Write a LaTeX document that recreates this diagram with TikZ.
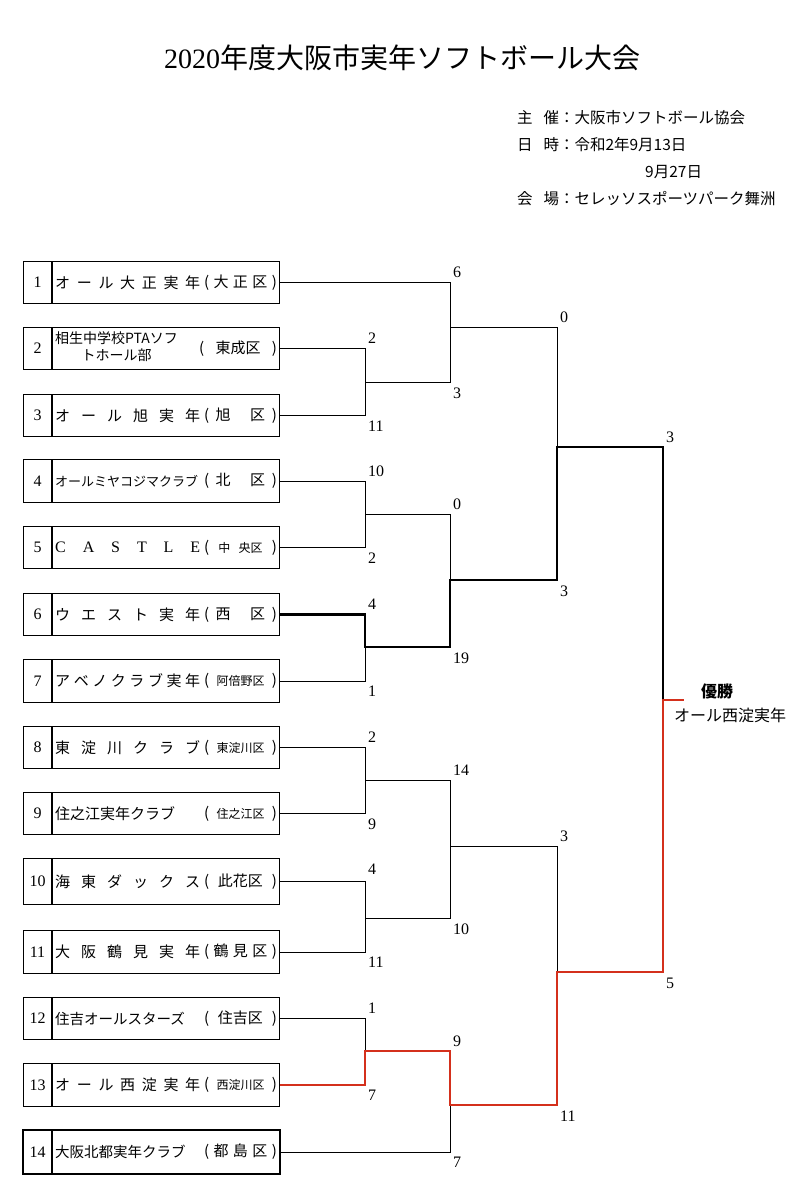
\documentclass[tikz,border=0pt]{standalone}
\usepackage{fontspec}
\newfontfamily\jp{Noto Sans CJK JP}
\newfontfamily\numf{Liberation Serif}
\definecolor{winred}{RGB}{212,48,28}
\tikzset{
  box/.style={draw, line width=1.2pt, inner sep=0pt, minimum width=256pt, anchor=north west},
  boxline/.style={line width=1.2pt},
  numstyle/.style={font=\numf\fontsize{16}{16}\selectfont, inner sep=0pt},
  tname/.style={inner sep=0pt, anchor=west},
  tdist/.style={inner sep=0pt, anchor=east},
  wire/.style={line width=1pt, line join=miter},
  boldwire/.style={line width=2.6pt, line join=miter},
  redwire/.style={line width=2.6pt, line join=miter, draw=winred},
  sc/.style={font=\numf\fontsize{16}{16}\selectfont, inner sep=0pt},
  up/.style={sc, anchor=south west},
  dn/.style={sc, anchor=north west},
  hdr/.style={anchor=west, inner sep=0pt, font=\jp\fontsize{15.5}{15.5}\selectfont},
}
\newcommand\team[6]{%
  \node[box, minimum height=#3pt] (#1) at (23,#2) {};
  \draw[boxline] ([xshift=29pt]#1.north west) -- ([xshift=29pt]#1.south west);
  \node[numstyle] (#1n) at ([xshift=14.5pt]#1.west) {#4};
  \node[tname] (#1a) at ([xshift=32pt]#1.west) {#5};
  \node[tdist] (#1d) at ([xshift=-3pt]#1.east) {#6};
}
\newcommand\sm[1]{{\fontsize{12}{12}\selectfont #1}}
\begin{document}
\begin{tikzpicture}[x=1pt,y=-1pt, font=\jp\fontsize{15}{15}\selectfont]
\useasboundingbox (0,0) rectangle (806,1200);
\fill[white] (0,0) rectangle (806,1200);

% title and header
\node[inner sep=0pt] (title) at (402,58) {\fontsize{28}{28}\selectfont{\numf 2020}年度大阪市実年ソフトボール大会};
\node[hdr] (h1) at (517,118) {主\hspace{0.7em}催：大阪市ソフトボール協会};
\node[hdr] (h2) at (517,145) {日\hspace{0.7em}時：令和2年9月13日};
\node[hdr] (h3) at (645,172) {9月27日};
\node[hdr] (h4) at (517,199) {会\hspace{0.7em}場：セレッソスポーツパーク舞洲};

% teams
\team{t1}{261}{42}{1}{\makebox[145pt]{オ\hfill ー\hfill ル\hfill 大\hfill 正\hfill 実\hfill 年}}{\makebox[73pt]{(\hfill 大\hfill 正\hfill 区\hfill )}}
\team{t2}{327}{42}{2}{{\fontsize{14}{17}\selectfont\begin{tabular}{@{}c@{}}相生中学校PTAソフ\\トホール部\end{tabular}}}{\makebox[78pt]{(\hfill 東成区\hfill )}}
\team{t3}{394}{42}{3}{\makebox[145pt]{オ\hfill ー\hfill ル\hfill 旭\hfill 実\hfill 年}}{\makebox[73pt]{(\hfill 旭\hspace{1.3em}区\hfill )}}
\team{t4}{459}{43}{4}{{\fontsize{13}{13}\selectfont オールミヤコジマクラブ}}{\makebox[73pt]{(\hfill 北\hspace{1.3em}区\hfill )}}
\team{t5}{526}{42}{5}{\makebox[145pt]{\numf\fontsize{16}{16}\selectfont C\hfill A\hfill S\hfill T\hfill L\hfill E}}{\makebox[73pt]{(\hfill\sm{中\hspace{0.7em}央区}\hfill )}}
\team{t6}{593}{42}{6}{\makebox[145pt]{ウ\hfill エ\hfill ス\hfill ト\hfill 実\hfill 年}}{\makebox[73pt]{(\hfill 西\hspace{1.3em}区\hfill )}}
\team{t7}{659}{43}{7}{\makebox[145pt]{ア\hfill ベ\hfill ノ\hfill ク\hfill ラ\hfill ブ\hfill 実\hfill 年}}{\makebox[73pt]{(\hfill\sm{阿倍野区}\hfill )}}
\team{t8}{726}{42}{8}{\makebox[145pt]{東\hfill 淀\hfill 川\hfill ク\hfill ラ\hfill ブ}}{\makebox[73pt]{(\hfill\sm{東淀川区}\hfill )}}
\team{t9}{792}{42}{9}{住之江実年クラブ}{\makebox[73pt]{(\hfill\sm{住之江区}\hfill )}}
\team{t10}{858}{46}{10}{\makebox[145pt]{海\hfill 東\hfill ダ\hfill ッ\hfill ク\hfill ス}}{\makebox[73pt]{(\hfill 此花区\hfill )}}
\team{t11}{930}{43}{11}{\makebox[145pt]{大\hfill 阪\hfill 鶴\hfill 見\hfill 実\hfill 年}}{\makebox[73pt]{(\hfill 鶴\hfill 見\hfill 区\hfill )}}
\team{t12}{997}{42}{12}{{\fontsize{14.5}{14.5}\selectfont 住吉オールスターズ}}{\makebox[73pt]{(\hfill 住吉区\hfill )}}
\team{t13}{1063}{43}{13}{\makebox[145pt]{オ\hfill ー\hfill ル\hfill 西\hfill 淀\hfill 実\hfill 年}}{\makebox[73pt]{(\hfill\sm{西淀川区}\hfill )}}
\team{t14}{1130}{43}{14}{{\fontsize{14.5}{14.5}\selectfont 大阪北都実年クラブ}}{\makebox[73pt]{(\hfill 都\hfill 島\hfill 区\hfill )}}
\draw[line width=2.4pt] (t14.north west) rectangle (t14.south east);
\draw[line width=2pt] ([xshift=29pt]t14.north west) -- ([xshift=29pt]t14.south west);

% junctions
\coordinate (j23) at (365,382);
\coordinate (j1to3) at (450,327);
\coordinate (j45) at (365,514);
\coordinate (j67) at (365,647);
\coordinate (j4to7) at (450,580);
\coordinate (jtop) at (557,447);
\coordinate (j89) at (365,780);
\coordinate (j1011) at (365,918);
\coordinate (j8to11) at (450,846);
\coordinate (j1213) at (365,1051);
\coordinate (j12to14) at (450,1105);
\coordinate (jbot) at (557,972);
\coordinate (jfin) at (663,700);
\coordinate (champ) at (684,700);

% thin bracket
\draw[wire] (t2.east) -| (j23) (t3.east) -| (j23);
\draw[wire] (t1.east) -| (j1to3) (j23) -| (j1to3);
\draw[wire] (t4.east) -| (j45) (t5.east) -| (j45);
\draw[wire] (t6.east) -| (j67) (t7.east) -| (j67);
\draw[wire] (j45) -| (j4to7) (j67) -| (j4to7);
\draw[wire] (j1to3) -| (jtop) (j4to7) -| (jtop);
\draw[wire] (t8.east) -| (j89) (t9.east) -| (j89);
\draw[wire] (t10.east) -| (j1011) (t11.east) -| (j1011);
\draw[wire] (j89) -| (j8to11) (j1011) -| (j8to11);
\draw[wire] (t12.east) -| (j1213) (t13.east) -| (j1213);
\draw[wire] (j1213) -| (j12to14) (t14.east) -| (j12to14);
\draw[wire] (j8to11) -| (jbot) (j12to14) -| (jbot);
\draw[wire] (jtop) -| (jfin) (jbot) -| (jfin);

% winning paths
\draw[boldwire] (t6.east) -| (j67) -| (j4to7) -| (jtop) -| (jfin);
\draw[redwire] (t13.east) -| (j1213) -| (j12to14) -| (jbot) -| (jfin) -- (champ);

% scores round 1
\node[up] (s2) at (368,344) {2};   \node[dn] (s3) at (368,421) {11};
\node[up] (s4) at (368,477) {10};  \node[dn] (s5) at (368,553) {2};
\node[up] (s6) at (368,610) {4};   \node[dn] (s7) at (368,686) {1};
\node[up] (s8) at (368,743) {2};   \node[dn] (s9) at (368,819) {9};
\node[up] (s10) at (368,875) {4};  \node[dn] (s11) at (368,957) {11};
\node[up] (s12) at (368,1014) {1}; \node[dn] (s13) at (368,1090) {7};
% round 2
\node[up] (r1) at (453,278) {6};   \node[dn] (r2) at (453,388) {3};
\node[up] (r3) at (453,510) {0};   \node[dn] (r4) at (453,653) {19};
\node[up] (r5) at (453,776) {14};  \node[dn] (r6) at (453,924) {10};
\node[up] (r7) at (453,1047) {9};  \node[dn] (r8) at (453,1157) {7};
% semis
\node[up] (q1) at (560,323) {0};   \node[dn] (q2) at (560,586) {3};
\node[up] (q3) at (560,842) {3};   \node[dn] (q4) at (560,1111) {11};
% final
\node[up] (f1) at (666,443) {3};   \node[dn] (f2) at (666,978) {5};

% champion
\node[inner sep=0pt, font=\jp\bfseries\fontsize{16}{16}\selectfont] (yusho) at (717,691) {優勝};
\node[inner sep=0pt, font=\jp\fontsize{16}{16}\selectfont] (champname) at (730,715) {オール西淀実年};
\end{tikzpicture}
\end{document}
